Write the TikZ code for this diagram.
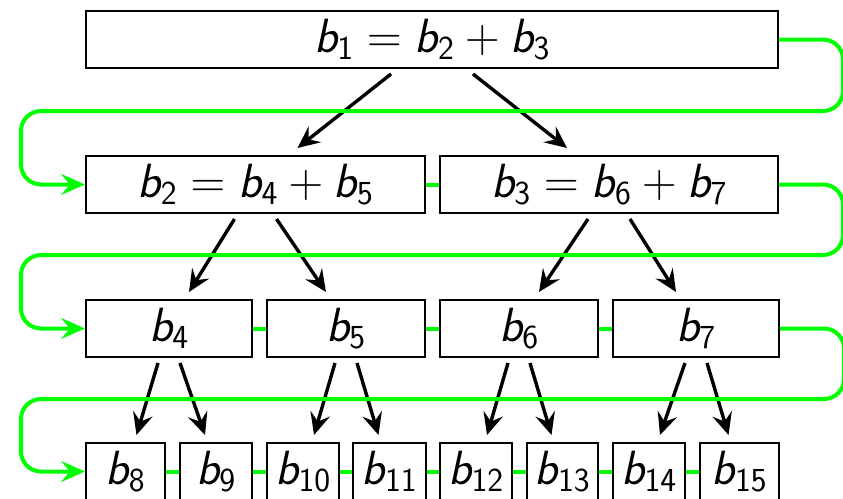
\documentclass[tikz,border=0pt]{standalone}
\usepackage{fix-cm}
\usetikzlibrary{arrows.meta,positioning}
\DeclareMathAlphabet{\mathssl}{OT1}{cmss}{m}{sl}
\newcommand{\bv}[1]{\mathssl{b}_{\mathsf{#1}}}

\begin{document}
\begin{tikzpicture}[x=1pt,y=-1pt,
  font=\fontsize{48}{58}\selectfont,
  cell/.style={draw,line width=2pt,minimum height=57pt,inner sep=0pt,anchor=north west},
  tree/.style={-{Stealth[length=22pt,width=20pt,inset=8pt]},line width=3.4pt},
  link/.style={draw=green,line width=4pt},
  wrap/.style={link,rounded corners=20pt,-{Stealth[length=24pt,width=21pt,inset=9pt]}}]
\path[use as bounding box] (0,0) rectangle (843,498);
% level 1
\node[cell,minimum width=692pt] (b1) at (85,10) {$\bv1 = \bv2 + \bv3$};
% level 2
\node[cell,minimum width=339pt] (b2) at (85,155) {$\bv2 = \bv4 + \bv5$};
\node[cell,minimum width=338pt] (b3) at (439,155) {$\bv3 = \bv6 + \bv7$};
% level 3
\node[cell,minimum width=166pt] (b4) at (85,299) {$\bv4$};
\node[cell,minimum width=158pt] (b5) at (266,299) {$\bv5$};
\node[cell,minimum width=158pt] (b6) at (439,299) {$\bv6$};
\node[cell,minimum width=166pt] (b7) at (612,299) {$\bv7$};
% level 4 (bottom edge runs off the page)
\node[cell,minimum width=79pt] (b8)  at (85,442)  {$\bv8$};
\node[cell,minimum width=72pt] (b9)  at (179,442) {$\bv9$};
\node[cell,minimum width=72pt] (b10) at (266,442) {$\bv{10}$};
\node[cell,minimum width=73pt] (b11) at (352,442) {$\bv{11}$};
\node[cell,minimum width=72pt] (b12) at (439,442) {$\bv{12}$};
\node[cell,minimum width=71pt] (b13) at (526,442) {$\bv{13}$};
\node[cell,minimum width=72pt] (b14) at (612,442) {$\bv{14}$};
\node[cell,minimum width=79pt] (b15) at (699,442) {$\bv{15}$};
% tree arrows
\foreach \p/\l/\r/\a/\b in {b1/b2/b3/41/42, b2/b4/b5/21/20, b3/b6/b7/21/20,
    b4/b8/b9/11/11, b5/b10/b11/11/11, b6/b12/b13/11/11, b7/b14/b15/11/11} {
  \draw[tree] ([xshift=-\a pt,yshift=-5pt]\p.south) -- ([xshift=\b pt,yshift=7pt]\l.north);
  \draw[tree] ([xshift=\a pt,yshift=-5pt]\p.south) -- ([xshift=-\b pt,yshift=7pt]\r.north);
}
% links within a level
\foreach \u/\v in {b2/b3, b4/b5, b5/b6, b6/b7, b8/b9, b9/b10, b10/b11, b11/b12, b12/b13, b13/b14, b14/b15}
  \draw[link] (\u.east) -- (\v.west);
% links between levels
\coordinate (g1) at (431,111);
\coordinate (g2) at (431,255);
\coordinate (g3) at (431,399);
\draw[wrap] (b1.east) -- ++(64,0) |- (g1) -| ([xshift=-64pt]b2.west) -- (b2.west);
\draw[wrap] (b3.east) -- ++(64,0) |- (g2) -| ([xshift=-64pt]b4.west) -- (b4.west);
\draw[wrap] (b7.east) -- ++(64,0) |- (g3) -| ([xshift=-64pt]b8.west) -- (b8.west);
\end{tikzpicture}
\end{document}
